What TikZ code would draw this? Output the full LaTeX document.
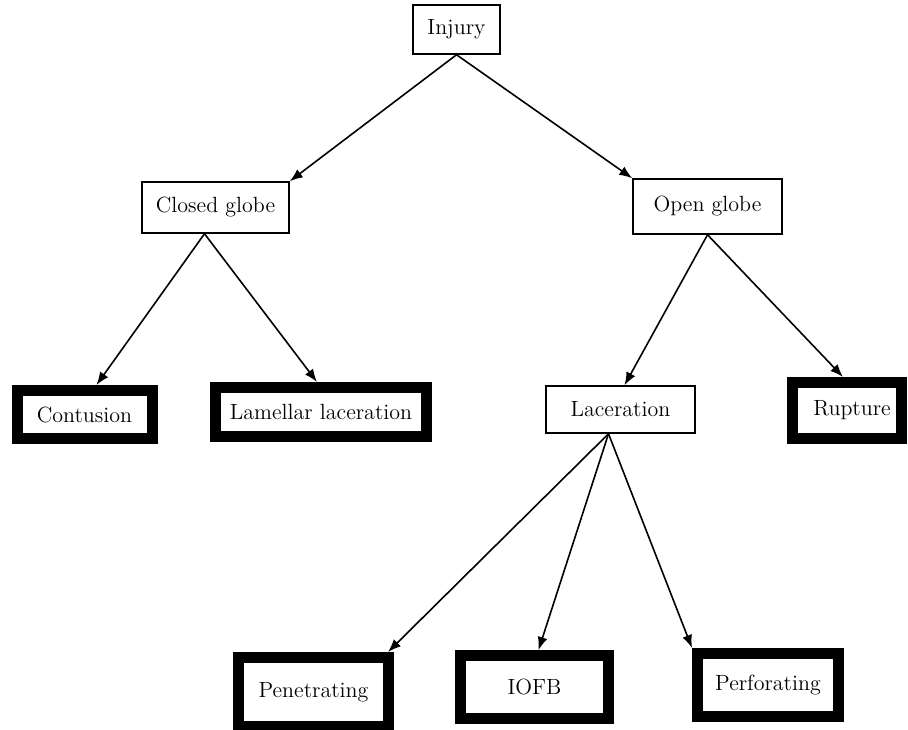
\documentclass[tikz,border=0pt]{standalone}
\usetikzlibrary{arrows.meta}
\tikzset{
    thinbox/.style={draw, line width=0.75pt, inner sep=0pt, font=\fontsize{11}{13}\selectfont},
    thickbox/.style={draw, line width=5.5pt, inner sep=0pt, font=\fontsize{11}{13}\selectfont},
}
\begin{document}
\begin{tikzpicture}[>={Latex[length=6.5pt,width=5pt]}, x=0.5pt, y=-0.5pt]
    \useasboundingbox (0,0) rectangle (908,729);
    % Hàng trên
    \node[thinbox, minimum width=43.5pt, minimum height=24.5pt] (injury) at (456.5,29.5) {Injury};
    \node[thinbox, minimum width=73.5pt, minimum height=25.5pt] (closed) at (215.5,207.5) {Closed globe};
    \node[thinbox, minimum width=74.5pt, minimum height=27.5pt] (open) at (707.5,206.5) {Open globe};

    % Hàng giữa
    \node[thickbox, minimum width=67.5pt, minimum height=24pt] (contusion) at (84.5,414.5) {Contusion};
    \node[thickbox, minimum width=105.5pt, minimum height=24.5pt] (lamellar) at (321,412) {Lamellar laceration};
    \node[thinbox, minimum width=74.5pt, minimum height=23.5pt] (laceration) at (620.5,409.5) {Laceration};
    \node[thickbox, minimum width=54.5pt, minimum height=28pt] (rupture) at (847,410.5) {\hspace*{5pt}Rupture};

    % Hàng dưới
    \node[thickbox, minimum width=75pt, minimum height=34.5pt] (penetrating) at (313.5,692) {Penetrating};
    \node[thickbox, minimum width=74pt, minimum height=31.5pt] (iofb) at (534.5,687) {IOFB};
    \node[thickbox, minimum width=70.5pt, minimum height=31.5pt] (perforating) at (768,685) {Perforating};

    % Mũi tên
    \draw[->, line width=0.8pt] (injury.south) -- (closed.north east);
    \draw[->, line width=0.8pt] (injury.south) -- (open.north west);
    \draw[->, line width=0.8pt] ([xshift=-5.5pt]closed.south) -- ([xshift=6pt]contusion.north);
    \draw[->, line width=0.8pt] ([xshift=-5.5pt]closed.south) -- ([xshift=-2pt]lamellar.north);
    \draw[->, line width=0.8pt] (open.south) -- ([xshift=2pt]laceration.north);
    \draw[->, line width=0.8pt] (open.south) -- ([xshift=-2pt]rupture.north);
    \draw[->, line width=0.8pt] ([xshift=-6pt]laceration.south) -- ([xshift=-3pt]penetrating.north east);
    \draw[->, line width=0.8pt] ([xshift=-6pt]laceration.south) -- ([xshift=2pt]iofb.north);
    \draw[->, line width=0.8pt] ([xshift=-6pt]laceration.south) -- (perforating.north west);
\end{tikzpicture}
\end{document}
